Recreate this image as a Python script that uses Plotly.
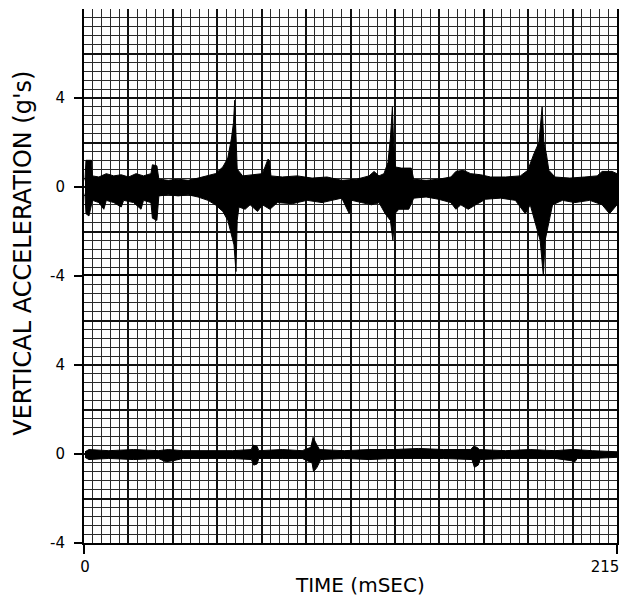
import plotly.graph_objects as go

# ---------------- data ----------------
# time axis
T_MIN, T_MAX = 0, 215
X_TICKS = [0, 215]
X_TICK_TEXT = ["0", "215"]
Y_TICKS = [-4, 0, 4]
Y_TICK_TEXT = ["-4", "0", "4"]
Y_RANGE = [-4, 8]

# top trace: envelope of the acceleration record (upper / lower edge), g's
TOP_UP_T = [0.4, 0.8, 3.0, 3.4, 6, 9, 12, 15, 18, 21, 24, 27, 27.6, 29.4, 30.2, 34, 38, 42, 46,
            50, 53, 56, 58, 59.5, 60.3, 60.8, 61.2, 61.8, 64, 68, 72, 74.2, 74.8, 75.4, 80, 86,
            92, 98, 104, 110, 115, 117, 119, 121, 122.6, 123.6, 124.4, 124.9, 125.6, 128, 132,
            133, 138, 143, 148, 150, 153, 156, 160, 164, 170, 176, 179, 181.5, 183.5, 184.8,
            185.5, 186.5, 187.5, 190, 196, 202, 207, 209, 213, 215]
TOP_UP_V = [0.3, 1.2, 1.2, 0.5, 0.45, 0.6, 0.5, 0.55, 0.45, 0.6, 0.5, 0.6, 1.0, 0.95, 0.35, 0.3,
            0.35, 0.3, 0.4, 0.5, 0.6, 0.9, 1.3, 2.2, 2.9, 3.9, 2.6, 0.8, 0.5, 0.55, 0.6, 1.25,
            1.2, 0.5, 0.45, 0.5, 0.4, 0.45, 0.3, 0.35, 0.5, 0.7, 0.5, 0.6, 1.1, 2.2, 3.6, 2.0,
            0.9, 0.85, 0.85, 0.35, 0.3, 0.35, 0.45, 0.7, 0.75, 0.6, 0.55, 0.45, 0.45, 0.5, 0.75,
            1.5, 2.0, 3.6, 2.0, 1.5, 0.75, 0.45, 0.4, 0.45, 0.5, 0.7, 0.7, 0.6]
TOP_LO_T = [0.4, 0.8, 2.0, 3.4, 6, 8, 9, 12, 15, 16, 20, 23, 24, 27, 27.6, 29.4, 30.2, 34, 38,
            42, 46, 50, 53, 56, 58, 59.5, 60.5, 61.3, 61.8, 62.5, 65, 67, 70, 72, 75, 78, 84,
            90, 96, 100, 104, 107, 108, 112, 116, 119, 121.5, 123.6, 124.6, 125.4, 127, 131,
            133, 138, 143, 148, 150, 152, 155, 158, 162, 168, 174, 178, 180, 182, 184, 185.3,
            186, 187.5, 189, 193, 198, 204, 209, 212, 214, 215]
TOP_LO_V = [-0.3, -1.2, -1.3, -0.6, -0.7, -1.0, -0.6, -0.7, -0.9, -0.6, -0.7, -1.0, -0.6, -0.7,
            -1.4, -1.5, -0.4, -0.35, -0.4, -0.35, -0.45, -0.6, -0.8, -1.1, -1.5, -2.1, -2.6,
            -3.8, -1.5, -0.9, -1.0, -0.8, -1.1, -0.8, -1.0, -0.7, -0.75, -0.6, -0.7, -0.6,
            -0.5, -1.2, -0.6, -0.7, -0.8, -0.7, -1.2, -1.5, -2.4, -1.2, -1.0, -1.0, -0.5,
            -0.45, -0.55, -0.7, -1.0, -0.8, -1.0, -0.8, -0.55, -0.5, -0.6, -1.2, -0.8, -1.6,
            -2.4, -4.0, -2.4, -1.6, -0.8, -0.6, -0.7, -0.6, -0.8, -1.2, -0.9, -0.8]

# bottom trace: envelope of the second acceleration record, g's
BOT_UP_T = [0.4, 2, 10, 20, 30, 34, 40, 50, 60, 67.5, 68.2, 69.8, 70.5, 80, 88, 91.5, 92.4,
            93.5, 95, 105, 115, 125, 135, 145, 156, 157.2, 158.5, 159.5, 170, 180, 190, 196.5,
            198, 205, 215]
BOT_UP_V = [0.1, 0.2, 0.15, 0.2, 0.15, 0.2, 0.15, 0.15, 0.15, 0.2, 0.4, 0.35, 0.15, 0.2, 0.15,
            0.3, 0.75, 0.5, 0.2, 0.15, 0.2, 0.2, 0.25, 0.2, 0.2, 0.35, 0.3, 0.2, 0.15, 0.2,
            0.15, 0.2, 0.2, 0.15, 0.1]
BOT_LO_T = [0.4, 2, 10, 20, 30, 33, 36, 40, 50, 60, 67.5, 68.5, 69.8, 70.5, 80, 88, 92, 92.6,
            94, 95.5, 105, 115, 125, 135, 145, 156.5, 157.5, 159, 159.8, 170, 180, 190, 196.5,
            198, 199, 205, 215]
BOT_LO_V = [-0.15, -0.25, -0.2, -0.25, -0.2, -0.35, -0.3, -0.2, -0.2, -0.2, -0.25, -0.5, -0.45,
            -0.2, -0.2, -0.2, -0.4, -0.8, -0.6, -0.25, -0.2, -0.25, -0.2, -0.2, -0.2, -0.25,
            -0.6, -0.5, -0.25, -0.2, -0.2, -0.2, -0.3, -0.35, -0.2, -0.2, -0.15]

# ---------------- figure ----------------
FONT = "DejaVu Sans"
INK = "black"
fig = go.Figure()


def band(t_up, v_up, t_lo, v_lo, yref):
    fig.add_trace(go.Scatter(x=t_up, y=v_up, xaxis="x", yaxis=yref, mode="lines",
                             line=dict(color=INK, width=1), hoverinfo="skip", showlegend=False))
    fig.add_trace(go.Scatter(x=t_lo, y=v_lo, xaxis="x", yaxis=yref, mode="lines",
                             line=dict(color=INK, width=1), fill="tonexty", fillcolor=INK,
                             hoverinfo="skip", showlegend=False))


band(TOP_UP_T, TOP_UP_V, TOP_LO_T, TOP_LO_V, "y")
band(BOT_UP_T, BOT_UP_V, BOT_LO_T, BOT_LO_V, "y2")

# empty traces so that the tick-only overlay axes get drawn
for xa, ya in [("x2", "y2"), ("x3", "y2"), ("x", "y3"), ("x", "y4")]:
    fig.add_trace(go.Scatter(x=[], y=[], xaxis=xa, yaxis=ya, mode="lines",
                             hoverinfo="skip", showlegend=False))

grid_major = dict(showgrid=True, gridcolor="#111111", gridwidth=1.6)
grid_minor = dict(showgrid=True, gridcolor="#2a2a2a", gridwidth=0.9, ticks="")

x_grid = dict(domain=[0, 1], anchor="y2", range=[T_MIN, T_MAX], tickmode="linear", tick0=0,
              dtick=(T_MAX - T_MIN) / 12, showticklabels=False, ticks="", zeroline=False,
              showline=True, linecolor=INK, linewidth=2, mirror=True,
              minor=dict(tick0=0, dtick=(T_MAX - T_MIN) / 60, **grid_minor), **grid_major)


def x_ticks(vals, texts, shift):
    return dict(overlaying="x", anchor="y2", side="bottom", range=[T_MIN, T_MAX],
                tickmode="array", tickvals=vals, ticktext=texts, ticks="outside",
                ticklen=10, tickwidth=2, tickcolor=INK, showgrid=False, zeroline=False,
                showline=False, ticklabeloverflow="allow", ticklabelshift=shift,
                tickfont=dict(family=FONT, size=15, color=INK))


def y_grid(domain):
    return dict(domain=domain, anchor="x", range=Y_RANGE, tickmode="linear", tick0=-4, dtick=2,
                showticklabels=False, ticks="", zeroline=False, showline=True, linecolor=INK,
                linewidth=2, mirror=True,
                minor=dict(tick0=-4, dtick=0.4, **grid_minor), **grid_major)


def y_ticks(over):
    return dict(overlaying=over, anchor="x", side="left", range=Y_RANGE, tickmode="array",
                tickvals=Y_TICKS, ticktext=Y_TICK_TEXT, ticks="outside", ticklen=9, tickwidth=2,
                tickcolor=INK, showgrid=False, zeroline=False, showline=False,
                ticklabelstandoff=6, ticklabeloverflow="allow",
                tickfont=dict(family=FONT, size=15, color=INK))


# the page body adds an 8 px offset, so the figure is sized to end at the window edge
fig.update_layout(
    width=619, height=591,
    margin=dict(l=76, r=10, t=1, b=56),
    paper_bgcolor="white", plot_bgcolor="white",
    showlegend=False,
    xaxis=x_grid,
    xaxis2=x_ticks(X_TICKS[:1], X_TICK_TEXT[:1], 1),
    xaxis3=x_ticks(X_TICKS[1:], X_TICK_TEXT[1:], -12),
    yaxis=y_grid([0.5, 1]),
    yaxis2=y_grid([0, 0.5]),
    yaxis3=y_ticks("y"),
    yaxis4=y_ticks("y2"),
    annotations=[
        dict(text="VERTICAL ACCELERATION (g's)", xref="paper", yref="paper", x=-0.116, y=0.542,
             xanchor="center", yanchor="middle", textangle=-90, showarrow=False,
             font=dict(family=FONT, size=24, color=INK)),
        dict(text="TIME (mSEC)", xref="paper", yref="paper", x=0.518, y=-0.078,
             xanchor="center", yanchor="middle", showarrow=False,
             font=dict(family=FONT, size=20, color=INK)),
    ],
)

fig.write_html("out.html")
